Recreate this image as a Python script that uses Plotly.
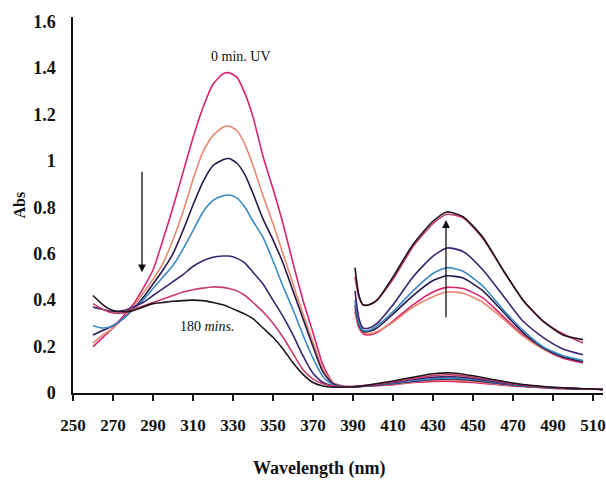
import plotly.graph_objects as go

# ---- data ----
wl_uv = [260, 265, 270, 275, 280, 285, 290, 295, 300, 305, 310, 315, 320, 325, 328,
         332, 336, 340, 345, 350, 355, 360, 365, 370, 375, 380,
         385, 390, 400, 410, 420, 430, 440, 450, 460, 470, 480, 490, 500, 510, 516]

uv_0min = [0.20, 0.24, 0.28, 0.33, 0.38, 0.45, 0.53, 0.66, 0.80, 0.95, 1.10, 1.23, 1.33, 1.375, 1.38,
           1.36, 1.29, 1.19, 1.02, 0.88, 0.73, 0.56, 0.40, 0.26, 0.12, 0.045,
           0.03, 0.028, 0.03, 0.036, 0.045, 0.05, 0.05, 0.045, 0.038, 0.03, 0.025, 0.02, 0.018, 0.016, 0.015]
uv_t2 = [0.215, 0.25, 0.28, 0.32, 0.37, 0.43, 0.49, 0.56, 0.66, 0.78, 0.92, 1.04, 1.11, 1.145, 1.15,
         1.13, 1.07, 0.98, 0.85, 0.73, 0.60, 0.47, 0.34, 0.22, 0.10, 0.045,
         0.03, 0.028, 0.032, 0.038, 0.048, 0.055, 0.055, 0.05, 0.04, 0.032, 0.026, 0.021, 0.018, 0.016, 0.015]
uv_t3 = [0.25, 0.27, 0.29, 0.32, 0.36, 0.41, 0.47, 0.53, 0.60, 0.70, 0.81, 0.91, 0.98, 1.005, 1.01,
         0.99, 0.94, 0.86, 0.75, 0.66, 0.56, 0.44, 0.32, 0.20, 0.09, 0.04,
         0.028, 0.027, 0.032, 0.04, 0.05, 0.058, 0.06, 0.054, 0.044, 0.034, 0.027, 0.022, 0.019, 0.017, 0.015]
uv_t4 = [0.29, 0.28, 0.29, 0.32, 0.36, 0.40, 0.45, 0.50, 0.55, 0.62, 0.70, 0.78, 0.83, 0.85, 0.853,
         0.84, 0.80, 0.74, 0.67, 0.57, 0.46, 0.36, 0.25, 0.15, 0.07, 0.035,
         0.027, 0.026, 0.033, 0.042, 0.053, 0.062, 0.064, 0.058, 0.047, 0.036, 0.028, 0.022, 0.019, 0.017, 0.015]
uv_t5 = [0.37, 0.36, 0.35, 0.355, 0.37, 0.39, 0.42, 0.45, 0.48, 0.51, 0.545, 0.57, 0.585, 0.59, 0.59,
         0.58, 0.56, 0.52, 0.47, 0.40, 0.33, 0.25, 0.16, 0.085, 0.045, 0.03,
         0.026, 0.026, 0.034, 0.045, 0.058, 0.068, 0.07, 0.063, 0.05, 0.038, 0.029, 0.023, 0.019, 0.017, 0.015]
uv_t6 = [0.385, 0.36, 0.345, 0.345, 0.36, 0.375, 0.39, 0.405, 0.42, 0.435, 0.445, 0.452, 0.457, 0.455, 0.45,
         0.44, 0.42, 0.39, 0.35, 0.30, 0.24, 0.17, 0.10, 0.06, 0.04, 0.03,
         0.026, 0.027, 0.036, 0.048, 0.062, 0.075, 0.078, 0.068, 0.054, 0.04, 0.03, 0.024, 0.02, 0.017, 0.015]
uv_180min = [0.42, 0.38, 0.355, 0.35, 0.355, 0.37, 0.385, 0.39, 0.395, 0.398, 0.40, 0.398, 0.39, 0.38, 0.37,
             0.355, 0.34, 0.32, 0.28, 0.24, 0.19, 0.13, 0.08, 0.045, 0.03, 0.025,
             0.025, 0.027, 0.038, 0.052, 0.068, 0.083, 0.086, 0.074, 0.058, 0.043, 0.032, 0.025, 0.02, 0.017, 0.015]

wl_vis = [391, 393, 395, 398, 402, 410, 420, 430, 437, 445, 455, 465, 475, 485, 495, 505]

vis_0min = [0.35, 0.28, 0.255, 0.25, 0.26, 0.31, 0.38, 0.435, 0.455, 0.45, 0.41, 0.33, 0.25, 0.19, 0.15, 0.13]
vis_t2 = [0.36, 0.28, 0.26, 0.255, 0.265, 0.305, 0.37, 0.415, 0.435, 0.43, 0.39, 0.32, 0.245, 0.19, 0.155, 0.135]
vis_t3 = [0.38, 0.29, 0.265, 0.265, 0.28, 0.34, 0.42, 0.485, 0.505, 0.495, 0.44, 0.35, 0.26, 0.195, 0.155, 0.135]
vis_t4 = [0.40, 0.30, 0.27, 0.27, 0.29, 0.35, 0.44, 0.515, 0.54, 0.525, 0.46, 0.36, 0.27, 0.20, 0.16, 0.14]
vis_t5 = [0.44, 0.32, 0.28, 0.28, 0.30, 0.38, 0.50, 0.59, 0.625, 0.61, 0.53, 0.42, 0.31, 0.24, 0.19, 0.165]
vis_t6 = [0.50, 0.41, 0.38, 0.38, 0.40, 0.49, 0.63, 0.73, 0.77, 0.755, 0.665, 0.53, 0.40, 0.31, 0.255, 0.215]
vis_180min = [0.54, 0.42, 0.38, 0.38, 0.40, 0.50, 0.64, 0.74, 0.78, 0.76, 0.67, 0.53, 0.40, 0.31, 0.25, 0.23]

series_colors = ["#d8246e", "#e8896e", "#2a1848", "#3b8ac4", "#3a2470", "#c83c66", "#1e141e"]

x_ticks = [250, 270, 290, 310, 330, 350, 370, 390, 410, 430, 450, 470, 490, 510]
y_ticks = [0, 0.2, 0.4, 0.6, 0.8, 1, 1.2, 1.4, 1.6]
y_tick_text = ["0", "0.2", "0.4", "0.6", "0.8", "1", "1.2", "1.4", "1.6"]

# ---- figure ----
fig = go.Figure()
uv_series = [uv_0min, uv_t2, uv_t3, uv_t4, uv_t5, uv_t6, uv_180min]
vis_series = [vis_0min, vis_t2, vis_t3, vis_t4, vis_t5, vis_t6, vis_180min]

for ys, c in zip(uv_series, series_colors):
    fig.add_trace(go.Scatter(x=wl_uv, y=ys, mode="lines", line=dict(color=c, width=1.6, shape="spline", smoothing=0.6),
                             showlegend=False, hoverinfo="skip"))
for ys, c in zip(vis_series, series_colors):
    fig.add_trace(go.Scatter(x=wl_vis, y=ys, mode="lines", line=dict(color=c, width=1.6, shape="spline", smoothing=0.6),
                             showlegend=False, hoverinfo="skip"))

x_tick_font = dict(family="Liberation Serif", size=17, color="#111111")
y_tick_font = dict(family="Liberation Serif", size=18, color="#111111")

fig.update_layout(
    width=606, height=481,
    margin=dict(l=73, r=3, t=17, b=88, autoexpand=False),
    paper_bgcolor="white", plot_bgcolor="white",
    xaxis=dict(range=[250, 515], tickvals=x_ticks, ticktext=[f"<b>{v}</b>" for v in x_ticks],
               showgrid=False, zeroline=False, showline=True, linecolor="#111111", linewidth=2,
               ticks="outside", ticklen=6, tickwidth=1.5, tickcolor="#111111", automargin=False,
               tickfont=x_tick_font, ticklabelstandoff=10),
    yaxis=dict(range=[0, 1.62], tickvals=y_ticks, ticktext=[f"<b>{t}</b>" for t in y_tick_text],
               showgrid=False, zeroline=False, showline=True, linecolor="#111111", linewidth=1.5,
               ticks="", tickfont=y_tick_font, ticklabelstandoff=12, automargin=False),
)

fig.add_annotation(text="<b>Wavelength (nm)</b>", xref="paper", yref="paper", x=0.466, y=-0.2,
                   showarrow=False, font=dict(family="Liberation Serif", size=18, color="#111111"),
                   xanchor="center", yanchor="middle")
fig.add_annotation(text="<b>Abs</b>", xref="paper", yref="paper", x=-0.101, y=0.5, textangle=-90,
                   showarrow=False, font=dict(family="Liberation Serif", size=16, color="#111111"),
                   xanchor="center", yanchor="middle")
fig.add_annotation(text="0 min. UV", x=334, y=1.45, showarrow=False,
                   font=dict(family="Liberation Serif", size=14, color="#111111"))
fig.add_annotation(text="180 <i>mins.</i>", x=317, y=0.285, showarrow=False,
                   font=dict(family="Liberation Serif", size=14, color="#111111"))

# arrows
fig.add_annotation(x=284.5, y=0.52, ax=284.5, ay=0.96, xref="x", yref="y", axref="x", ayref="y",
                   text="", showarrow=True, arrowhead=2, arrowsize=1.2, arrowwidth=1.3, arrowcolor="#111111")
fig.add_annotation(x=436.5, y=0.745, ax=436.5, ay=0.32, xref="x", yref="y", axref="x", ayref="y",
                   text="", showarrow=True, arrowhead=2, arrowsize=1.2, arrowwidth=1.3, arrowcolor="#111111")

fig.write_html("out.html", config={"displayModeBar": False},
               post_script="document.body.style.margin='0';document.body.style.overflow='hidden';")
